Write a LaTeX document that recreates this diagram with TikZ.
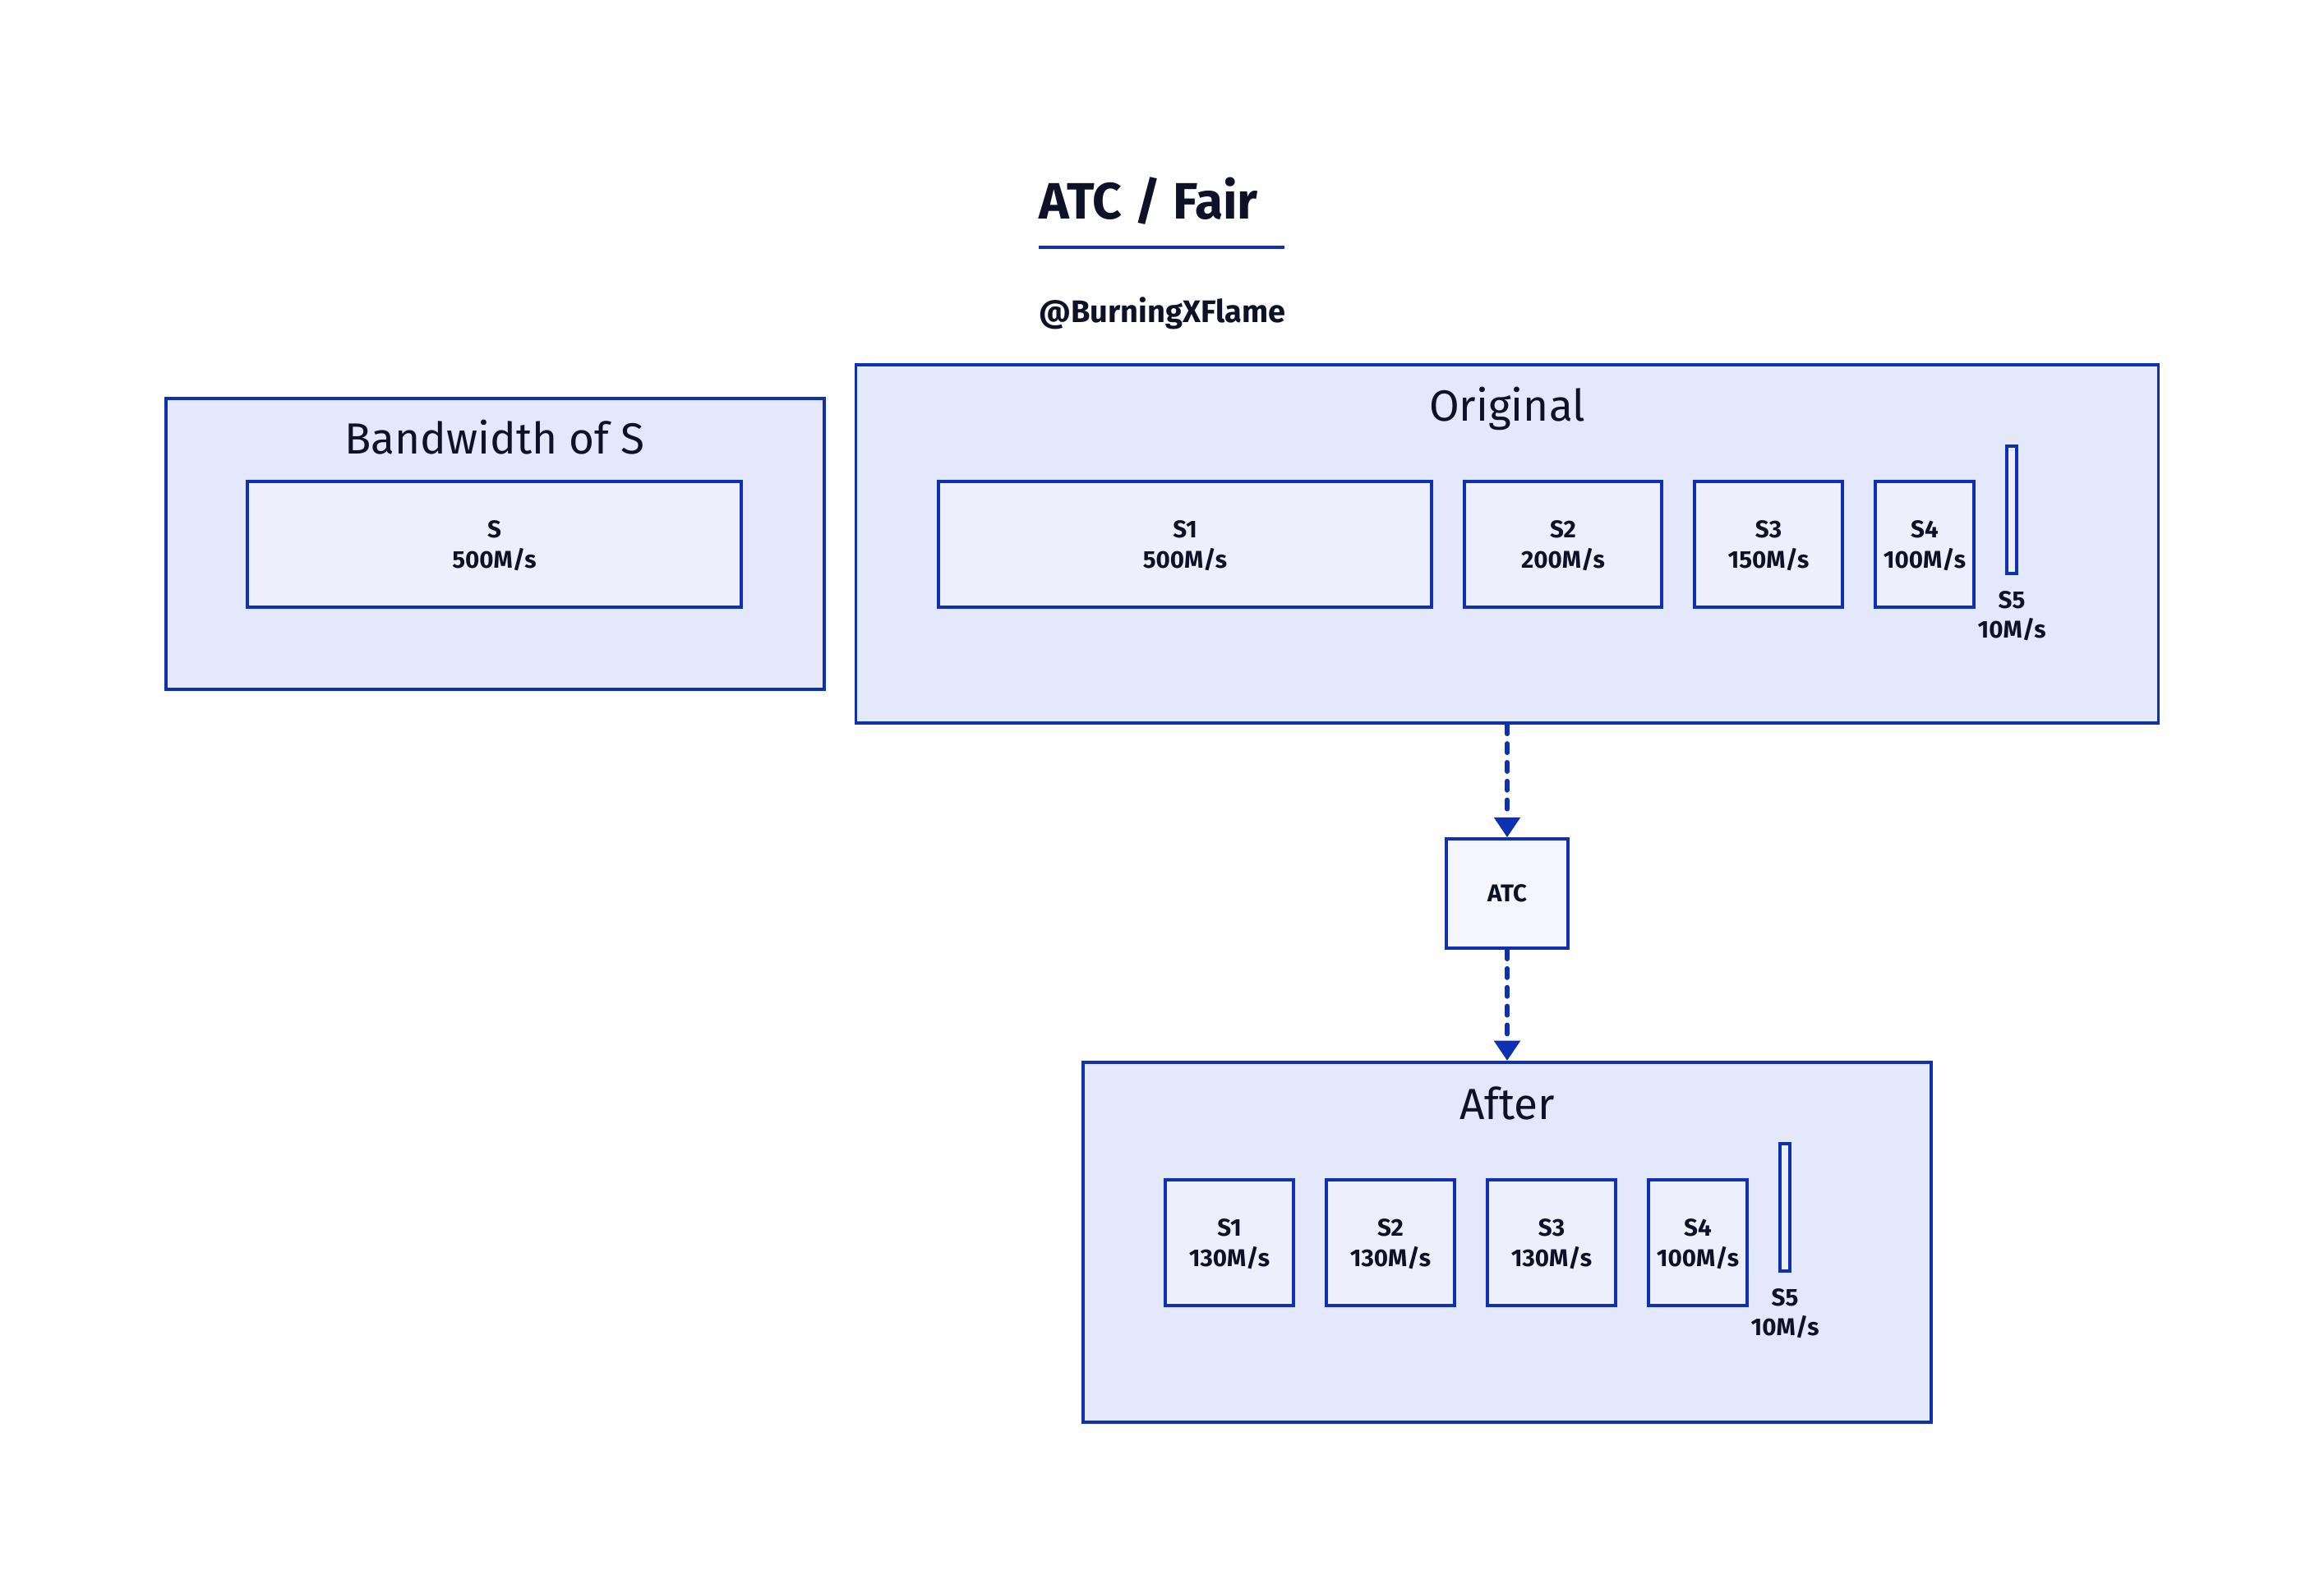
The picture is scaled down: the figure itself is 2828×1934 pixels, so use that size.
\documentclass[tikz,border=0pt]{standalone}
\usepackage{fontspec}
\setmainfont{Fira Sans}
\usepackage{color}
\usepackage{tikz}
\usetikzlibrary{arrows.meta}
\definecolor{edge}{RGB}{14,48,178}
\definecolor{outer}{RGB}{227,232,250}
\definecolor{inner}{RGB}{237,240,252}
\definecolor{atcfill}{RGB}{245,246,253}
\definecolor{ink}{RGB}{14,18,40}

\begin{document}
\begin{tikzpicture}[x=0.01cm,y=-0.01cm]
        \tikzstyle{every node}=[text=ink,inner sep=0pt]
        \tikzstyle{group}=[draw=edge,line width=1.1pt,fill=outer,shape=rectangle]
        \tikzstyle{rate}=[draw=edge,line width=1.05pt,fill=inner,shape=rectangle,minimum height=1.53cm,align=center,text depth=-0.07cm,font=\fontsize{8.4}{10.4}\selectfont\bfseries]
        \tikzstyle{bar}=[draw=edge,line width=1.05pt,fill=inner,shape=rectangle,minimum width=0.12cm,minimum height=1.55cm]
        \tikzstyle{small}=[align=center,font=\fontsize{8.4}{10.2}\selectfont\bfseries]
        \tikzstyle{head}=[anchor=base,font=\fontsize{15.1}{18}\selectfont]
        \tikzstyle{flow}=[draw=edge,line width=1.6pt,line cap=round,dash pattern=on 3.2pt off 3.3pt,-{Triangle[length=6.9pt,width=8.8pt]}]

            \fill[white] (0,0) rectangle (2828,1934);
            \useasboundingbox (0,0) rectangle (2828,1934);

            % title
            \node[anchor=base west,font=\fontsize{17.7}{21}\selectfont\bfseries] (title) at (1264,267) {ATC / Fair};
            \draw[edge,line width=0.9pt] (1264,301) -- (1563,301);
            \node[anchor=base west,font=\fontsize{10.8}{13}\selectfont\bfseries] (who) at (1264,393) {@BurningXFlame};

            % bandwidth of S
            \node[group,minimum width=8.01cm,minimum height=3.54cm] (bw) at (602.5,662) {};
            \node[head] (bwt) at (602,553) {Bandwidth of S};
            \node[rate,minimum width=6cm] (s) at (601.5,662.5) {S\\500M/s};

            % original
            \node[group,minimum width=15.84cm,minimum height=4.36cm] (orig) at (1834,662) {};
            \node[head] (origt) at (1834,513) {Original};
            \node[rate,minimum width=6cm] (o1) at (1442,662.5) {S1\\500M/s};
            \node[rate,minimum width=2.4cm] (o2) at (1902,662.5) {S2\\200M/s};
            \node[rate,minimum width=1.8cm] (o3) at (2152,662.5) {S3\\150M/s};
            \node[rate,minimum width=1.2cm] (o4) at (2342,662.5) {S4\\100M/s};
            \node[bar] (o5) at (2448,620.5) {};
            \node[small,anchor=north] (o5t) at (2448,719) {S5\\10M/s};

            % atc
            \node[rate,fill=atcfill,minimum width=1.48cm,minimum height=1.33cm,text depth=0pt] (atc) at (1834,1087.5) {ATC};

            % after
            \node[group,minimum width=10.32cm,minimum height=4.38cm] (after) at (1834,1512) {};
            \node[head] (aftert) at (1834,1362) {After};
            \node[rate,minimum width=1.56cm] (a1) at (1496,1512.5) {S1\\130M/s};
            \node[rate,minimum width=1.56cm] (a2) at (1692,1512.5) {S2\\130M/s};
            \node[rate,minimum width=1.56cm] (a3) at (1888,1512.5) {S3\\130M/s};
            \node[rate,minimum width=1.2cm] (a4) at (2066,1512.5) {S4\\100M/s};
            \node[bar] (a5) at (2172,1469.5) {};
            \node[small,anchor=north] (a5t) at (2172,1568) {S5\\10M/s};

            \draw[flow] (orig) -- (atc);
            \draw[flow] (atc) -- (after);
\end{tikzpicture}
\end{document}
